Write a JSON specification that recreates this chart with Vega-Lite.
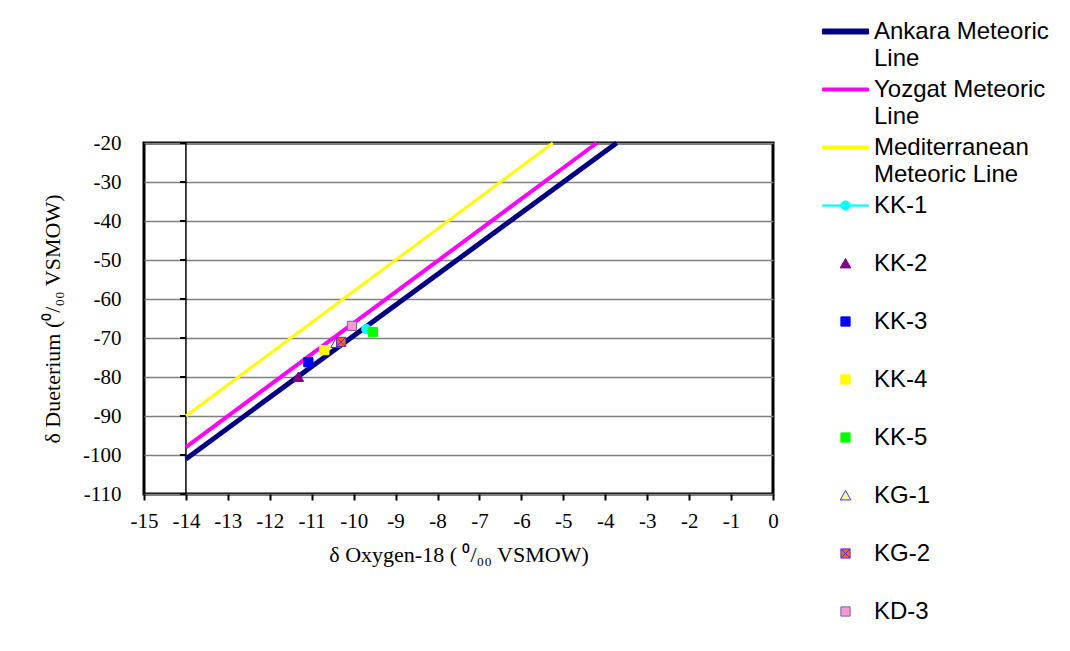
{
  "$schema": "https://vega.github.io/schema/vega-lite/v6.json",
  "width": 629,
  "height": 351,
  "autosize": {"type": "none"},
  "padding": {"left": 144, "top": 143, "right": 297, "bottom": 157},
  "background": "white",
  "config": {
    "view": {"stroke": "black", "strokeWidth": 3},
    "legend": {
      "orient": "none",
      "legendX": 683,
      "legendY": -130,
      "padding": 0,
      "rowPadding": 0,
      "labelFont": "Liberation Sans",
      "labelFontSize": 24,
      "labelColor": "black",
      "labelOffset": 10,
      "labelLimit": 400,
      "symbolSize": 1260,
      "symbolStrokeWidth": 1
    }
  },
  "datasets": {
    "ticks": [
      {"x": -14.14, "x2": -14, "y": -110},
      {"x": -14.14, "x2": -14, "y": -100},
      {"x": -14.14, "x2": -14, "y": -90},
      {"x": -14.14, "x2": -14, "y": -80},
      {"x": -14.14, "x2": -14, "y": -70},
      {"x": -14.14, "x2": -14, "y": -60},
      {"x": -14.14, "x2": -14, "y": -50},
      {"x": -14.14, "x2": -14, "y": -40},
      {"x": -14.14, "x2": -14, "y": -30},
      {"x": -14.14, "x2": -14, "y": -20}
    ],
    "vline": [{"x": -14, "y": -110, "y2": -20}],
    "lines": [
      {"series": "Ankara Meteoric Line", "x": -14, "y": -101},
      {"series": "Ankara Meteoric Line", "x": -3.73, "y": -20},
      {"series": "Yozgat Meteoric Line", "x": -14, "y": -98},
      {"series": "Yozgat Meteoric Line", "x": -4.2, "y": -20},
      {"series": "Mediterranean Meteoric Line", "x": -14, "y": -90},
      {"series": "Mediterranean Meteoric Line", "x": -5.25, "y": -20}
    ],
    "points": [
      {"series": "KK-1", "x": -9.70, "y": -67.7},
      {"series": "KK-2", "x": -11.32, "y": -80.0},
      {"series": "KK-3", "x": -11.08, "y": -76.2},
      {"series": "KK-4", "x": -10.70, "y": -73.1},
      {"series": "KK-5", "x": -9.54, "y": -68.5},
      {"series": "KG-1", "x": -10.42, "y": -71.3},
      {"series": "KG-2", "x": -10.30, "y": -71.0},
      {"series": "KD-3", "x": -10.04, "y": -66.9}
    ]
  },
  "encoding": {
    "x": {
      "field": "x",
      "type": "quantitative",
      "scale": {"domain": [-15, 0], "nice": false, "zero": false},
      "axis": {
        "values": [-15, -14, -13, -12, -11, -10, -9, -8, -7, -6, -5, -4, -3, -2, -1, 0],
        "labelExpr": "datum.value + ''",
        "domain": false,
        "grid": false,
        "ticks": true,
        "tickSize": 6,
        "tickWidth": 2,
        "tickColor": "black",
        "labelFont": "Liberation Serif",
        "labelFontSize": 21,
        "labelColor": "black",
        "labelPadding": 10,
        "labelFlush": false,
        "labelOverlap": false,
        "title": "δ Oxygen-18 ( ⁰/₀₀ VSMOW)",
        "titleFont": "Liberation Serif",
        "titleFontSize": 22,
        "titleFontWeight": "normal",
        "titleColor": "black",
        "titlePadding": 13
      }
    },
    "y": {
      "field": "y",
      "type": "quantitative",
      "scale": {"domain": [-110, -20], "nice": false, "zero": false},
      "axis": {
        "values": [-110, -100, -90, -80, -70, -60, -50, -40, -30, -20],
        "labelExpr": "datum.value + ''",
        "domain": false,
        "ticks": false,
        "grid": true,
        "gridColor": "#808080",
        "gridWidth": 1.5,
        "labelFont": "Liberation Serif",
        "labelFontSize": 21,
        "labelColor": "black",
        "labelPadding": 23,
        "labelFlush": false,
        "labelOverlap": false,
        "title": "δ Dueterium (⁰/₀₀ VSMOW)",
        "titleFont": "Liberation Serif",
        "titleFontSize": 22,
        "titleFontWeight": "normal",
        "titleColor": "black",
        "titlePadding": 18
      }
    }
  },
  "layer": [
    {
      "data": {"name": "ticks"},
      "mark": {"type": "rule", "color": "black", "strokeWidth": 2},
      "encoding": {"x2": {"field": "x2"}}
    },
    {
      "data": {"name": "vline"},
      "mark": {"type": "rule", "color": "black", "strokeWidth": 1.5},
      "encoding": {"y2": {"field": "y2"}}
    },
    {
      "data": {"name": "lines"},
      "mark": {"type": "line", "strokeCap": "butt"},
      "encoding": {
        "stroke": {
          "field": "series",
          "type": "nominal",
          "scale": {
            "domain": ["Ankara Meteoric Line", "Yozgat Meteoric Line", "Mediterranean Meteoric Line", "KK-1", "KK-2", "KK-3", "KK-4", "KK-5", "KG-1", "KG-2", "KD-3"],
            "range": ["#000080", "#FF00FF", "#FFFF00", "#00FFFF", "#800080", "#0000FF", "#FFFF00", "#00FF00", "#3333FF", "#5533CC", "#6666AA"]
          },
          "legend": {
            "title": null,
            "labelExpr": "datum.label == 'Ankara Meteoric Line' ? ['Ankara Meteoric', 'Line'] : datum.label == 'Yozgat Meteoric Line' ? ['Yozgat Meteoric', 'Line'] : datum.label == 'Mediterranean Meteoric Line' ? ['Mediterranean', 'Meteoric Line'] : [datum.label, ' ']",
            "encode": {"labels": {"update": {"lineHeight": {"value": 27.5}}}}
          }
        },
        "strokeWidth": {
          "field": "series",
          "type": "nominal",
          "scale": {"domain": ["Ankara Meteoric Line", "Yozgat Meteoric Line", "Mediterranean Meteoric Line"], "range": [5, 3, 3]},
          "legend": null
        }
      }
    },
    {
      "data": {"name": "points"},
      "mark": {"type": "point", "filled": true, "size": 1260, "strokeWidth": 1, "opacity": 1},
      "encoding": {
        "fill": {
          "field": "series",
          "type": "nominal",
          "scale": {
            "domain": ["Ankara Meteoric Line", "Yozgat Meteoric Line", "Mediterranean Meteoric Line", "KK-1", "KK-2", "KK-3", "KK-4", "KK-5", "KG-1", "KG-2", "KD-3"],
            "range": ["#000080", "#FF00FF", "#FFFF00", "#00FFFF", "#800080", "#0000FF", "#FFFF00", "#00FF00", "#FFFF99", "#FF6600", "#FF99CC"]
          },
          "legend": {
            "title": null,
            "labelExpr": "datum.label == 'Ankara Meteoric Line' ? ['Ankara Meteoric', 'Line'] : datum.label == 'Yozgat Meteoric Line' ? ['Yozgat Meteoric', 'Line'] : datum.label == 'Mediterranean Meteoric Line' ? ['Mediterranean', 'Meteoric Line'] : [datum.label, ' ']",
            "encode": {"labels": {"update": {"lineHeight": {"value": 27.5}}}}
          }
        },
        "stroke": {
          "field": "series",
          "type": "nominal",
          "legend": {
            "title": null,
            "labelExpr": "datum.label == 'Ankara Meteoric Line' ? ['Ankara Meteoric', 'Line'] : datum.label == 'Yozgat Meteoric Line' ? ['Yozgat Meteoric', 'Line'] : datum.label == 'Mediterranean Meteoric Line' ? ['Mediterranean', 'Meteoric Line'] : [datum.label, ' ']",
            "encode": {"labels": {"update": {"lineHeight": {"value": 27.5}}}}
          }
        },
        "shape": {
          "condition": {"test": "datum.series === 'KK-1'", "value": "M-0.26,0A0.26,0.26 0 1,0 0.26,0A0.26,0.26 0 1,0 -0.26,0Z"},
          "field": "series",
          "type": "nominal",
          "scale": {
            "domain": ["Ankara Meteoric Line", "Yozgat Meteoric Line", "Mediterranean Meteoric Line", "KK-1", "KK-2", "KK-3", "KK-4", "KK-5", "KG-1", "KG-2", "KD-3"],
            "range": [
              "M-1.3,-0.14H1.3V0.14H-1.3Z",
              "M-1.3,-0.085H1.3V0.085H-1.3Z",
              "M-1.3,-0.085H1.3V0.085H-1.3Z",
              "M-1.3,-0.035H1.3V0.035H-1.3Z M-0.26,0A0.26,0.26 0 1,0 0.26,0A0.26,0.26 0 1,0 -0.26,0Z",
              "M0,-0.28L0.3,0.25L-0.3,0.25Z",
              "M-0.26,-0.26H0.26V0.26H-0.26Z",
              "M-0.26,-0.26H0.26V0.26H-0.26Z",
              "M-0.26,-0.26H0.26V0.26H-0.26Z",
              "M0,-0.28L0.3,0.25L-0.3,0.25Z",
              "M-0.26,-0.26H0.26V0.26H-0.26Z M-0.26,-0.26L0.26,0.26 M0.26,-0.26L-0.26,0.26",
              "M-0.26,-0.26H0.26V0.26H-0.26Z"
            ]
          },
          "legend": {
            "title": null,
            "labelExpr": "datum.label == 'Ankara Meteoric Line' ? ['Ankara Meteoric', 'Line'] : datum.label == 'Yozgat Meteoric Line' ? ['Yozgat Meteoric', 'Line'] : datum.label == 'Mediterranean Meteoric Line' ? ['Mediterranean', 'Meteoric Line'] : [datum.label, ' ']",
            "encode": {"labels": {"update": {"lineHeight": {"value": 27.5}}}}
          }
        }
      }
    }
  ]
}
